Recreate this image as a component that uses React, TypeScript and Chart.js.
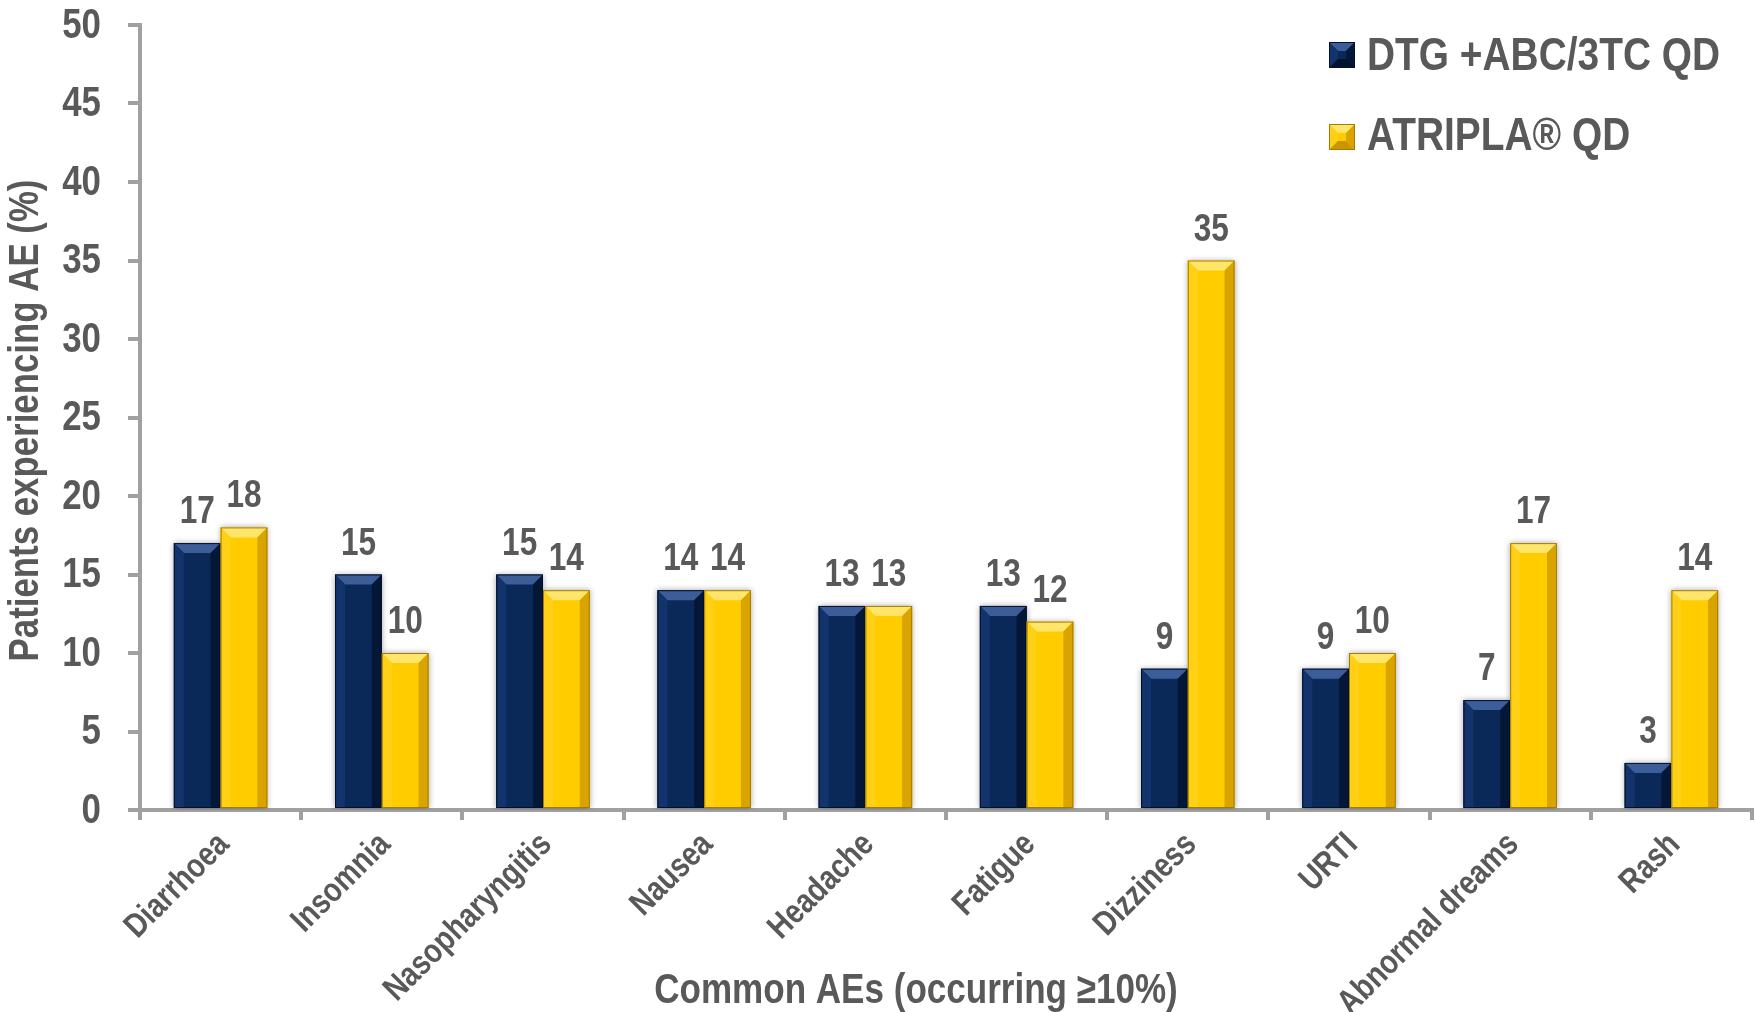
import React, { useEffect, useRef } from 'react';
import { Chart, registerables } from 'chart.js';

Chart.register(...registerables);

const categories = ['Diarrhoea', 'Insomnia', 'Nasopharyngitis', 'Nausea', 'Headache', 'Fatigue', 'Dizziness', 'URTI', 'Abnormal dreams', 'Rash'];
const dtgValues = [17, 15, 15, 14, 13, 13, 9, 9, 7, 3];
const atriplaValues = [18, 10, 14, 14, 13, 12, 35, 10, 17, 14];
const seriesLabels = ['DTG +ABC/3TC QD', 'ATRIPLA® QD'];
const yMin = 0;
const yMax = 50;
const yStep = 5;
const yTitle = 'Patients experiencing AE (%)';
const xTitle = 'Common AEs (occurring ≥10%)';

const FONT = '"Liberation Sans", Arial, sans-serif';
const NARROW = 0.83;
const TEXT = '#595959';
const AXIS = '#a0a0a0';

const palettes = [
  { face: '#0a2858', top: '#3d5d99', left: '#12336b', right: '#041736', bottom: '#03132e', border: '#03112a' },
  { face: '#ffcc00', top: '#ffe66b', left: '#ffd015', right: '#d9a400', bottom: '#c99500', border: '#a67c00' },
];

function poly(ctx: CanvasRenderingContext2D, pts: number[][], color: string) {
  ctx.fillStyle = color;
  ctx.beginPath();
  ctx.moveTo(pts[0][0], pts[0][1]);
  for (let i = 1; i < pts.length; i++) ctx.lineTo(pts[i][0], pts[i][1]);
  ctx.closePath();
  ctx.fill();
}

function bevel(ctx: CanvasRenderingContext2D, l: number, t: number, r: number, b: number, p: any, s: number, withBottom: boolean) {
  const w = r - l;
  const h = b - t;
  ctx.save();
  poly(ctx, [[l, t], [r, t], [r - s, t + s], [l + s, t + s]], p.top);
  poly(ctx, [[l, t], [l + s, t + s], [l + s, withBottom ? b - s : b], [l, b]], p.left);
  poly(ctx, [[r, t], [r - s, t + s], [r - s, withBottom ? b - s : b], [r, b]], p.right);
  if (withBottom) poly(ctx, [[l, b], [l + s, b - s], [r - s, b - s], [r, b]], p.bottom);
  ctx.strokeStyle = p.border;
  ctx.lineWidth = 1;
  ctx.strokeRect(l + 0.5, t + 0.5, w - 1, h - 1);
  ctx.restore();
}

function narrowText(ctx: CanvasRenderingContext2D, text: string, x: number, y: number, size: number, align: CanvasTextAlign, baseline: CanvasTextBaseline, rot: number, factor = NARROW) {
  ctx.save();
  ctx.translate(x, y);
  if (rot) ctx.rotate(rot);
  ctx.scale(factor, 1);
  ctx.fillStyle = TEXT;
  ctx.font = `bold ${size}px ${FONT}`;
  ctx.textAlign = align;
  ctx.textBaseline = baseline;
  ctx.fillText(text, 0, 0);
  ctx.restore();
}

const decorPlugin = {
  id: 'decor',
  beforeDatasetsDraw(chart: any) {
    const ctx = chart.ctx;
    ctx.save();
    ctx.shadowColor = 'rgba(0,0,0,0.35)';
    ctx.shadowBlur = 6;
    ctx.shadowOffsetX = 0;
    ctx.shadowOffsetY = 0;
  },
  afterDatasetsDraw(chart: any) {
    const ctx = chart.ctx;
    ctx.restore();
    chart.data.datasets.forEach((ds: any, di: number) => {
      const meta = chart.getDatasetMeta(di);
      meta.data.forEach((bar: any, i: number) => {
        const { x, y, base, width } = bar.getProps(['x', 'y', 'base', 'width'], true);
        const s = Math.max(0, Math.min(10, width / 4, (base - y) / 2));
        bevel(ctx, x - width / 2, y, x + width / 2, base, palettes[di], s, false);
        narrowText(ctx, String(ds.data[i]), x, y - 20, 38, 'center', 'alphabetic', 0);
      });
    });
  },
  afterDraw(chart: any) {
    const ctx = chart.ctx;
    // y tick labels
    const ys = chart.scales.y;
    ys.ticks.forEach((t: any) => {
      narrowText(ctx, String(t.value), ys.right - 39, ys.getPixelForValue(t.value) + 1, 42, 'right', 'middle', 0);
    });
    // x tick labels
    const xs = chart.scales.x;
    xs.ticks.forEach((t: any, i: number) => {
      const cx = xs.getPixelForTick(i);
      narrowText(ctx, String(chart.data.labels[i]), cx + 10, xs.top + 36, 34, 'right', 'alphabetic', -Math.PI / 4);
    });
    // y title
    narrowText(ctx, yTitle, 38, (chart.chartArea.top + chart.chartArea.bottom) / 2 + 3, 43, 'center', 'alphabetic', -Math.PI / 2, 0.81);
    // x title
    narrowText(ctx, xTitle, 916, 1003, 43, 'center', 'alphabetic', 0, 0.815);
    // legend
    const rows = [55, 137];
    const baselines = [70, 150];
    chart.data.datasets.forEach((ds: any, di: number) => {
      const cy = rows[di];
      const p = palettes[di];
      ctx.save();
      ctx.fillStyle = p.face;
      ctx.fillRect(1329, cy - 13, 26, 26);
      ctx.restore();
      bevel(ctx, 1329, cy - 13, 1355, cy + 13, p, 9, true);
      narrowText(ctx, ds.label, 1367, baselines[di], 46, 'left', 'alphabetic', 0, 0.845);
    });
  },
};

export default function App() {
  const ref = useRef<HTMLCanvasElement>(null);
  useEffect(() => {
    const canvas = ref.current;
    if (!canvas) return;
    const chart = new Chart(canvas, {
      type: 'bar',
      data: {
        labels: categories,
        datasets: [
          { label: seriesLabels[0], data: dtgValues, backgroundColor: palettes[0].face, borderWidth: 0 },
          { label: seriesLabels[1], data: atriplaValues, backgroundColor: palettes[1].face, borderWidth: 0 },
        ],
      },
      options: {
        responsive: false,
        animation: false,
        devicePixelRatio: 1,
        layout: { padding: { left: 0, top: 25, right: 4, bottom: 0 } },
        datasets: { bar: { categoryPercentage: 0.58, barPercentage: 1.0 } },
        plugins: { legend: { display: false }, tooltip: { enabled: false } },
        scales: {
          x: {
            offset: true,
            grid: { display: true, drawOnChartArea: false, drawTicks: true, tickLength: 10, color: AXIS, lineWidth: 4, offset: true },
            border: { display: true, color: AXIS, width: 4 },
            ticks: { display: false, autoSkip: false },
            afterFit: (s: any) => { s.height = 202; },
          },
          y: {
            min: yMin,
            max: yMax,
            ticks: { display: false, stepSize: yStep },
            grid: { drawOnChartArea: false, drawTicks: true, tickLength: 12, color: AXIS, lineWidth: 4 },
            border: { display: true, color: AXIS, width: 4 },
            afterFit: (s: any) => { s.width = 140; },
          },
        },
      } as any,
      plugins: [decorPlugin],
    });
    return () => chart.destroy();
  }, []);
  return (
    <canvas
      ref={ref}
      width={1756}
      height={1012}
      style={{ position: 'absolute', left: 0, top: 0, width: 1756, height: 1012, display: 'block', background: '#ffffff' }}
    />
  );
}
